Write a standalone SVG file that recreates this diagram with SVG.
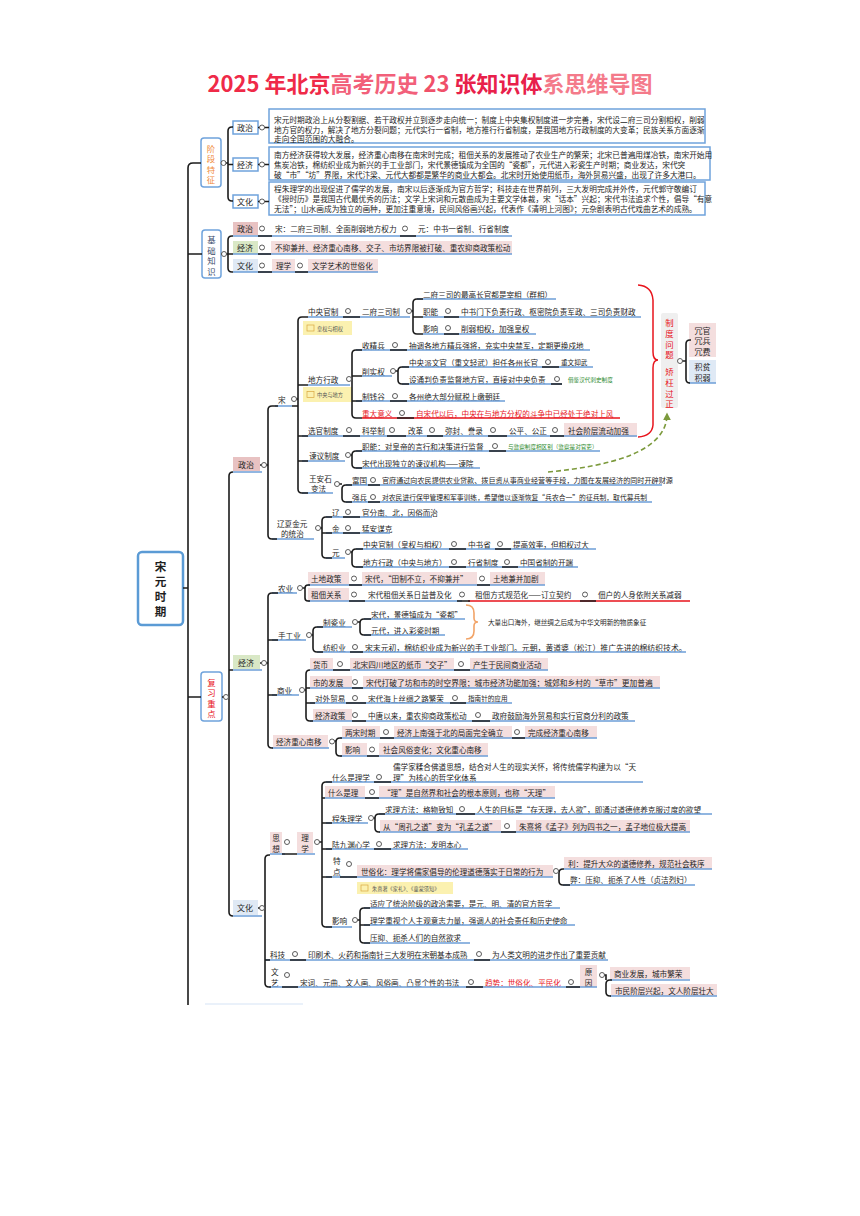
<svg xmlns="http://www.w3.org/2000/svg" width="860" height="1216" viewBox="0 0 860 1216">
<defs>
<style>
text{font-family:"Noto Sans CJK SC","Noto Sans",sans-serif;fill:#1e1e1e;dominant-baseline:central}
.t{font-size:7.6px}
.tb{font-size:7.7px}
.s{font-size:6.6px}
.g{font-size:5.6px;fill:#2e8b2e}
.y{font-size:5.2px;fill:#555}
.r{fill:#e8141c}
.lab{font-size:8px}
.v{font-size:8.4px;text-anchor:middle}
.ul{stroke:#6d9fd8;stroke-width:1.3;fill:none}
.ur{stroke:#e8141c;stroke-width:1.3;fill:none}
.cn{stroke:#1c1c1c;stroke-width:1.6;fill:none}
.ci{fill:#fff;stroke:#4a4a4a;stroke-width:0.9}
.pk{fill:#f4dede}
.pz{fill:#e8c2c2}
.gz{fill:#d9e8c6}
.bz{fill:#dfe9f5}
.box{fill:#fff;stroke:#6fa3dc;stroke-width:1.5}
.yl{fill:#fbf1b0}
.ic{fill:none;stroke:#d9a640;stroke-width:0.7}
.rt{font-size:11.6px;font-weight:bold;text-anchor:middle}
</style>
<marker id="ga" viewBox="0 0 10 10" refX="8" refY="5" markerWidth="5" markerHeight="5" orient="auto"><path d="M0,0 L10,5 L0,10 z" fill="#7c9a3c"/></marker>
</defs>
<rect width="860" height="1216" fill="#fff"/>

<g id="title">
<text x="430" y="82" text-anchor="middle" font-size="22" font-weight="bold" style="fill:#f0284a"><tspan style="fill:#ef2a48">2025 年北京</tspan><tspan style="fill:#f2607a">高考历史</tspan><tspan style="fill:#f0506a"> 23 </tspan><tspan style="fill:#e8204a">张知识体</tspan><tspan style="fill:#f47a8a">系思维导图</tspan></text>
</g>

<g id="root">
<rect x="138" y="552" width="45" height="73" rx="4" fill="#fff" stroke="#5b9bd5" stroke-width="2.5"/>
<text class="rt" x="160.5" y="566">宋</text>
<text class="rt" x="160.5" y="581">元</text>
<text class="rt" x="160.5" y="596">时</text>
<text class="rt" x="160.5" y="611">期</text>
</g>

<!-- 阶段特征 -->
<g id="n-jdtz">
<rect class="box" x="201" y="138" width="20" height="49" rx="3"/>
<text class="v" x="211" y="147.5" style="fill:#f08a3a">阶</text>
<text class="v" x="211" y="158" style="fill:#f08a3a">段</text>
<text class="v" x="211" y="168.5" style="fill:#f08a3a">特</text>
<text class="v" x="211" y="179" style="fill:#f08a3a">征</text>
</g>
<g id="n-jd-zz">
<rect class="box" x="233" y="121" width="25" height="13"/>
<text class="lab" x="237" y="127.5">政治</text>
<rect class="box" x="269" y="109" width="436" height="34"/>
<text class="tb" x="274" y="119">宋元时期政治上从分裂割据、若干政权并立到逐步走向统一；制度上中央集权制度进一步完善，宋代设二府三司分割相权，削弱</text>
<text class="tb" x="274" y="129">地方官的权力，解决了地方分裂问题；元代实行一省制，地方推行行省制度，是我国地方行政制度的大变革；民族关系方面逐渐</text>
<text class="tb" x="274" y="138.5">走向全国范围的大融合。</text>
</g>
<g id="n-jd-jj">
<rect class="box" x="233" y="158" width="25" height="13"/>
<text class="lab" x="237" y="164.5">经济</text>
<rect class="box" x="269" y="147" width="441" height="33"/>
<text class="tb" x="274" y="154.5">南方经济获得较大发展，经济重心南移在南宋时完成；租佃关系的发展推动了农业生产的繁荣；北宋已普遍用煤冶铁，南宋开始用</text>
<text class="tb" x="274" y="164.5">焦炭冶铁，棉纺织业成为新兴的手工业部门，宋代景德镇成为全国的“瓷都”，元代进入彩瓷生产时期；商业发达，宋代突</text>
<text class="tb" x="274" y="174.5">破“市”“坊”界限，宋代汴梁、元代大都都是繁华的商业大都会。北宋时开始使用纸币，海外贸易兴盛，出现了许多大港口。</text>
</g>
<g id="n-jd-wh">
<rect class="box" x="233" y="195" width="25" height="13"/>
<text class="lab" x="237" y="201.5">文化</text>
<rect class="box" x="269" y="182" width="436" height="33"/>
<text class="tb" x="274" y="188">程朱理学的出现促进了儒学的发展，南宋以后逐渐成为官方哲学；科技走在世界前列，三大发明完成并外传，元代郭守敬编订</text>
<text class="tb" x="274" y="198">《授时历》是我国古代最优秀的历法；文学上宋词和元散曲成为主要文学体裁，宋“话本”兴起；宋代书法追求个性，倡导“有意</text>
<text class="tb" x="274" y="208">无法”；山水画成为独立的画种，更加注重意境，民间风俗画兴起，代表作《清明上河图》；元杂剧表明古代戏曲艺术的成熟。</text>
</g>

<!-- 基础知识 -->
<g id="n-jczs">
<rect class="box" x="202" y="230" width="19" height="48" rx="3"/>
<text class="v" x="211.5" y="239" style="fill:#3a4a6a">基</text>
<text class="v" x="211.5" y="249.5" style="fill:#3a4a6a">础</text>
<text class="v" x="211.5" y="260" style="fill:#3a4a6a">知</text>
<text class="v" x="211.5" y="270.5" style="fill:#3a4a6a">识</text>
</g>
<g id="n-jc-zz">
<rect class="pz" x="233" y="222" width="25" height="13"/>
<text class="lab" x="237" y="228.5">政治</text>
<text class="t" x="275" y="228.5">宋：二府三司制、全面削弱地方权力</text>
<text class="t" x="418" y="228.5">元：中书一省制、行省制度</text>
</g>
<g id="n-jc-jj">
<rect class="gz" x="233" y="241" width="25" height="13"/>
<text class="lab" x="237" y="247.5">经济</text>
<rect class="pk" x="271" y="241" width="241" height="13"/>
<text class="t" x="275" y="247.5">不抑兼并、经济重心南移、交子、市坊界限被打破、重农抑商政策松动</text>
</g>
<g id="n-jc-wh">
<rect class="bz" x="233" y="259" width="25" height="13"/>
<text class="lab" x="237" y="265.5">文化</text>
<rect class="pk" x="272" y="259" width="23" height="13"/>
<text class="t" x="276" y="265.5">理学</text>
<rect class="pk" x="308" y="259" width="70" height="13"/>
<text class="t" x="312" y="265.5">文学艺术的世俗化</text>
</g>

<!-- 复习重点 -->
<g id="n-fxzd">
<rect class="box" x="201" y="672" width="21" height="49" rx="3"/>
<text class="v" x="211.5" y="681.5" style="fill:#e8141c">复</text>
<text class="v" x="211.5" y="692" style="fill:#e8141c">习</text>
<text class="v" x="211.5" y="702.5" style="fill:#e8141c">重</text>
<text class="v" x="211.5" y="713" style="fill:#e8141c">点</text>
</g>

<!-- 政治 -->
<g id="n-zz">
<rect class="pz" x="233" y="457" width="27" height="14"/>
<text class="lab" x="238" y="464">政治</text>
</g>
<g id="n-song"><text class="t" x="278" y="399">宋</text></g>
<g id="n-zygz">
<text class="t" x="308" y="311">中央官制</text>
<text class="t" x="362" y="311">二府三司制</text>
<text class="t" x="423" y="294">二府三司的最高长官都是宰相（群相）</text>
<text class="t" x="423" y="311">职能</text>
<text class="t" x="461" y="311">中书门下负责行政、枢密院负责军政、三司负责财政</text>
<text class="t" x="423" y="328">影响</text>
<text class="t" x="461" y="328">削弱相权，加强皇权</text>
<rect class="yl" x="303" y="321" width="49" height="14"/>
<rect class="ic" x="307" y="325" width="7" height="6"/>
<text class="y" x="317" y="328">皇权与相权</text>
</g>
<g id="n-dfxz">
<text class="t" x="308" y="379">地方行政</text>
<text class="t" x="362" y="345">收精兵</text>
<text class="t" x="409" y="345">抽调各地方精兵强将，充实中央禁军，定期更换戍地</text>
<text class="t" x="362" y="371">削实权</text>
<text class="t" x="409" y="362">中央派文官（重文轻武）担任各州长官</text>
<text class="s" x="561" y="362">重文抑武</text>
<text class="t" x="409" y="379">设通判负责监督地方官，直接对中央负责</text>
<text class="g" x="568" y="380">借鉴汉代刺史制度</text>
<text class="t" x="362" y="396">制钱谷</text>
<text class="t" x="409" y="396">各州绝大部分赋税上缴朝廷</text>
<text class="t r" x="362" y="413">重大意义</text>
<text class="t r" x="416" y="413">自宋代以后，中央在与地方分权的斗争中已经处于绝对上风</text>
<rect class="yl" x="303" y="387" width="49" height="15"/>
<rect class="ic" x="307" y="391.5" width="7" height="6"/>
<text class="y" x="317" y="394.5">中央与地方</text>
</g>
<g id="n-xgzd">
<text class="t" x="308" y="430">选官制度</text>
<text class="t" x="362" y="430">科举制</text>
<text class="t" x="408" y="430">改革</text>
<text class="t" x="445" y="430">弥封、誊录</text>
<text class="t" x="509" y="430">公平、公正</text>
<rect class="pk" x="564" y="423" width="73" height="14"/>
<text class="t" x="568" y="430">社会阶层流动加强</text>
</g>
<g id="n-jyzd">
<text class="t" x="309" y="455">谏议制度</text>
<text class="t" x="362" y="446">职能：对皇帝的言行和决策进行监督</text>
<text class="g" x="508" y="447">与监察制度相区别（监察是对官吏）</text>
<text class="t" x="362" y="463">宋代出现独立的谏议机构——谏院</text>
</g>
<g id="n-wasbf">
<text class="t" x="309" y="478">王安石</text>
<text class="t" x="311" y="488.5">变法</text>
<text class="t" x="352" y="480">富国</text>
<text x="382" y="480" style="font-size:7.1px">官府通过向农民提供农业贷款、拨巨资从事商业经营等手段，力图在发展经济的同时开辟财源</text>
<text class="t" x="352" y="497">强兵</text>
<text x="382" y="497" style="font-size:6.8px">对农民进行保甲管理和军事训练，希望借以逐渐恢复“兵农合一”的征兵制，取代募兵制</text>
</g>
<g id="n-lxjy">
<text class="t" x="277" y="523">辽夏金元</text>
<text class="t" x="281" y="533.5">的统治</text>
<text class="t" x="332" y="512">辽</text>
<text class="t" x="362" y="512">官分南、北，因俗而治</text>
<text class="t" x="332" y="528">金</text>
<text class="t" x="362" y="528">猛安谋克</text>
<text class="t" x="332" y="552">元</text>
<text class="t" x="363" y="544">中央官制（皇权与相权）</text>
<text class="t" x="468" y="544">中书省</text>
<text class="t" x="513" y="544">提高效率，但相权过大</text>
<text class="t" x="363" y="562">地方行政（中央与地方）</text>
<text class="t" x="468" y="562">行省制度</text>
<text class="t" x="520" y="562">中国省制的开端</text>
</g>

<!-- right side -->
<g id="n-zdwt">
<rect x="661" y="313" width="17" height="95" rx="2" fill="#efefef"/>
<text class="v r" x="669.5" y="322">制</text>
<text class="v r" x="669.5" y="333">度</text>
<text class="v r" x="669.5" y="343.5">问</text>
<text class="v r" x="669.5" y="354">题</text>
<text class="v r" x="669.5" y="371">矫</text>
<text class="v r" x="669.5" y="382">枉</text>
<text class="v r" x="669.5" y="392.5">过</text>
<text class="v r" x="669.5" y="403">正</text>
</g>
<g id="n-rong">
<rect class="pk" x="689" y="323" width="27" height="34"/>
<text x="702.5" y="330" font-size="8" text-anchor="middle">冗官</text>
<text x="702.5" y="340.5" font-size="8" text-anchor="middle">冗兵</text>
<text x="702.5" y="351" font-size="8" text-anchor="middle">冗费</text>
</g>
<g id="n-jipin">
<rect class="bz" x="689" y="360" width="27" height="23"/>
<text x="702.5" y="366.5" font-size="8" text-anchor="middle">积贫</text>
<text x="702.5" y="377" font-size="8" text-anchor="middle">积弱</text>
</g>

<!-- 经济 -->
<g id="n-jj">
<rect class="gz" x="233" y="655" width="27" height="14"/>
<text class="lab" x="238" y="662">经济</text>
</g>
<g id="n-ny">
<text class="t" x="278" y="588">农业</text>
<rect class="pk" x="308" y="572" width="41" height="13"/>
<text class="t" x="311" y="578.5">土地政策</text>
<rect class="pk" x="362" y="572" width="115" height="13"/>
<text class="t" x="365" y="578.5">宋代，“田制不立，不抑兼并”</text>
<rect class="pk" x="490" y="572" width="55" height="13"/>
<text class="t" x="493" y="578.5">土地兼并加剧</text>
<rect class="pk" x="308" y="588" width="41" height="13"/>
<text class="t" x="311" y="594.5">租佃关系</text>
<text class="t" x="368" y="594.5">宋代租佃关系日益普及化</text>
<text class="t" x="475" y="594.5">租佃方式规范化——订立契约</text>
<text class="t" x="598" y="594.5">佃户的人身依附关系减弱</text>
</g>
<g id="n-sgy">
<text class="t" x="278" y="635">手工业</text>
<text class="t" x="323" y="622">制瓷业</text>
<text class="t" x="371" y="614">宋代，景德镇成为“瓷都”</text>
<text class="t" x="371" y="630">元代，进入彩瓷时期</text>
<text class="s" x="488" y="622">大量出口海外，继丝绸之后成为中华文明新的物质象征</text>
<text class="t" x="323" y="647">纺织业</text>
<text x="365" y="647" style="font-size:7.85px">宋末元初，棉纺织业成为新兴的手工业部门。元朝，黄道婆（松江）推广先进的棉纺织技术。</text>
</g>
<g id="n-sy">
<text class="t" x="277" y="690">商业</text>
<rect class="pk" x="310" y="658" width="23" height="12"/>
<text class="t" x="313" y="664">货币</text>
<rect class="pk" x="350" y="658" width="104" height="12"/>
<text class="t" x="353" y="664">北宋四川地区的纸币“交子”</text>
<rect class="pk" x="470" y="658" width="78" height="12"/>
<text class="t" x="473" y="664">产生于民间商业活动</text>
<rect class="pk" x="310" y="676" width="42" height="12"/>
<text class="t" x="313" y="682">市的发展</text>
<rect class="pk" x="363" y="676" width="297" height="12"/>
<text x="366" y="682" style="font-size:7.75px">宋代打破了坊和市的时空界限；城市经济功能加强；城郊和乡村的“草市”更加普遍</text>
<text class="t" x="315" y="698">对外贸易</text>
<text class="t" x="368" y="698">宋代海上丝绸之路繁荣</text>
<text class="s" x="468" y="698">指南针的应用</text>
<rect class="pk" x="313" y="709" width="39" height="12"/>
<text class="t" x="315" y="715">经济政策</text>
<text class="t" x="368" y="715">中唐以来，重农抑商政策松动</text>
<text class="t" x="492" y="715">政府鼓励海外贸易和实行官商分利的政策</text>
</g>
<g id="n-jjzx">
<rect class="pk" x="273" y="735" width="55" height="13"/>
<text class="t" x="276" y="741.5">经济重心南移</text>
<rect class="pk" x="342" y="726" width="38" height="12"/>
<text class="t" x="345" y="732">两宋时期</text>
<rect class="pk" x="394" y="726" width="118" height="12"/>
<text class="t" x="397" y="732">经济上南强于北的局面完全确立</text>
<rect class="pk" x="525" y="726" width="72" height="12"/>
<text class="t" x="528" y="732">完成经济重心南移</text>
<rect class="pk" x="342" y="743" width="25" height="13"/>
<text class="t" x="345" y="749.5">影响</text>
<rect class="pk" x="379" y="743" width="109" height="13"/>
<text class="t" x="383" y="749.5">社会风俗变化；文化重心南移</text>
</g>

<!-- 文化 -->
<g id="n-wh">
<rect class="bz" x="233" y="900" width="25" height="15"/>
<text class="lab" x="237" y="907.5">文化</text>
</g>
<g id="n-sx">
<rect class="pk" x="270" y="832" width="12" height="21"/>
<text class="t" x="276" y="837" text-anchor="middle">思</text>
<text class="t" x="276" y="848" text-anchor="middle">想</text>
<rect class="pk" x="297" y="832" width="16" height="21"/>
<text class="t" x="305" y="837" text-anchor="middle">理</text>
<text class="t" x="305" y="848" text-anchor="middle">学</text>
</g>
<g id="n-lx">
<text class="t" x="332" y="777">什么是理学</text>
<text class="t" x="393" y="766.5">儒学家糅合佛道思想，结合对人生的现实关怀，将传统儒学构建为以“天</text>
<text class="t" x="393" y="777">理”为核心的哲学化体系</text>
<rect class="pk" x="325" y="786" width="40" height="12"/>
<text class="t" x="328" y="792">什么是理</text>
<rect class="pk" x="379" y="786" width="176" height="12"/>
<text class="t" x="383" y="792">“理”是自然界和社会的根本原则，也称“天理”</text>
<text class="t" x="332" y="818">程朱理学</text>
<text class="t" x="385" y="809">求理方法：格物致知</text>
<text class="t" x="477" y="809">人生的目标是“存天理，去人欲”，即通过道德修养克服过度的欲望</text>
<rect class="pk" x="380" y="820" width="121" height="12"/>
<text class="t" x="383" y="826">从“周孔之道”变为“孔孟之道”</text>
<rect class="pk" x="516" y="820" width="174" height="12"/>
<text class="t" x="519" y="826">朱熹将《孟子》列为四书之一，孟子地位极大提高</text>
<text class="t" x="332" y="844">陆九渊心学</text>
<text class="t" x="393" y="844">求理方法：发明本心</text>
<text class="t" x="333" y="860">特</text>
<text class="t" x="333" y="871">点</text>
<rect class="pk" x="357" y="865" width="196" height="12"/>
<text class="t" x="361" y="871">世俗化：理学将儒家倡导的伦理道德落实于日常的行为</text>
<rect class="pk" x="564" y="857" width="148" height="12"/>
<text class="t" x="568" y="863">利：提升大众的道德修养，规范社会秩序</text>
<text class="t" x="570" y="879">弊：压抑、扼杀了人性（贞洁烈妇）</text>
<rect class="yl" x="357" y="882" width="96" height="12"/>
<rect class="ic" x="361" y="885" width="7" height="6"/>
<text class="y" x="372" y="888">朱熹著《家礼》、《童蒙须知》</text>
<text class="t" x="332" y="920">影响</text>
<text class="t" x="370" y="903">适应了统治阶级的政治需要，是元、明、清的官方哲学</text>
<text class="t" x="370" y="920">理学重视个人主观意志力量，强调人的社会责任和历史使命</text>
<text class="t" x="370" y="937">压抑、扼杀人们的自然欲求</text>
</g>
<g id="n-kj">
<text class="t" x="270" y="954">科技</text>
<text class="t" x="308" y="954">印刷术、火药和指南针三大发明在宋朝基本成熟</text>
<text class="t" x="492" y="954">为人类文明的进步作出了重要贡献</text>
</g>
<g id="n-wy">
<text class="t" x="271" y="971">文</text>
<text class="t" x="271" y="982">艺</text>
<text class="t" x="300" y="982">宋词、元曲、文人画、风俗画、凸显个性的书法</text>
<text class="t r" x="485" y="982">趋势：世俗化、平民化</text>
<rect class="pk" x="580" y="965" width="17" height="22"/>
<text class="t" x="588.5" y="971" text-anchor="middle">原</text>
<text class="t" x="588.5" y="982" text-anchor="middle">因</text>
<rect class="pk" x="610" y="967" width="80" height="12"/>
<text class="t" x="614" y="973">商业发展，城市繁荣</text>
<rect class="pk" x="611" y="984" width="106" height="12"/>
<text class="t" x="615" y="990">市民阶层兴起，文人阶层壮大</text>
</g>

<g id="connectors">
<path class="ul" d="M233,236 H512 M233,254 H512 M233,272 H378
M233,472 H262 M275,406 H292
M308,317 H410 M417,299 H556 M423,317 H641 M423,334 H536
M308,385 H350 M356,350 H590 M362,376 H392 M402,367 H593 M402,384 H562 M356,401 H505
M302,436 H637 M302,461 H345 M356,451 H600 M356,468 H480
M302,493 H333 M346,485 H662 M346,502 H652
M272,539 H314 M326,517 H432 M326,533 H390 M326,558 H345 M356,549 H596 M356,567 H578
M233,670 H262 M272,593 H297 M308,585 H545 M308,601 H462
M272,640 H306 M317,627 H352 M364,619 H465 M364,635 H445 M317,652 H686
M272,695 H299 M310,670 H548 M310,688 H660 M310,703 H512 M310,721 H635
M272,748 H329 M340,738 H597 M340,756 H488
M233,916 H262 M270,854 H285 M297,854 H315
M326,782 H643 M325,798 H555 M326,823 H368 M379,814 H712 M379,832 H690 M326,849 H468
M326,877 H553 M564,869 H712 M563,885 H695
M326,927 H352 M364,908 H560 M364,925 H575 M364,943 H470
M265,960 H608 M269,987 H597 M610,980 H690 M610,996 H717
M689,383 H716"/>
<path class="ur" d="M362,418 H620 M468,601 H690"/>
<path d="M205,1004 H303" stroke="#e3edf8" stroke-width="1.5"/>

<path class="cn" d="M201,163 H193 Q188,163 188,168 V1005 M183,588 H188 M188,254 H202 M188,697 H201
M221,163 H228 M233,127 H232 Q228,127 228,131 V197 Q228,201 232,201 H233 M228,164.5 H233
M258,127.5 H269 M258,164.5 H269 M258,201.5 H269
M221,254 H228 M233,236 H232 Q228,236 228,240 V268 Q228,272 232,272 H233 M228,254 H233
M258,236 H272 M400,236 H416 M258,254 H271 M258,272 H272 M295,272 H308
M222,697 H229 M233,472 Q229,472 229,476 V912 Q229,916 233,916 M229,670 H233
M260,465 H268 M278,406 H272 Q268,406 268,410 V535 Q268,539 272,539 H277
M292,406 H298 M296,399 H298 M308,317 H302 Q298,317 298,321 V489 Q298,493 302,493 H308 M298,385 H308 M298,436 H308 M298,461 H308
M343,317 H360 M411,311 H413 M423,299 H417 Q413,299 413,303 V330 Q413,334 417,334 H423 M413,317 H423
M444,317 H459 M444,334 H459
M350,379 H352 M362,350 H356 Q352,350 352,354 V414 Q352,418 356,418 H362 M352,376 H362 M352,401 H362
M390,350 H407 M395,371 H398 M409,367 H402 Q398,367 398,371 V380 Q398,384 402,384 H409
M542,367 H559 M551,384 H562 M390,401 H407 M397,418 H414
M343,436 H360 M387,436 H406 M427,436 H443 M488,436 H507 M550,436 H564
M350,455 H352 M362,451 H356 Q352,451 352,455 V464 Q352,468 356,468 H362 M489,451 H506
M339,484 H342 M352,485 H346 Q342,485 342,489 V498 Q342,502 346,502 H352 M368,485 H380 M368,502 H380
M320,528 H322 M332,517 H326 Q322,517 322,521 V554 Q322,558 326,558 H332 M322,533 H332
M343,517 H360 M343,533 H360
M350,552 H352 M363,549 H356 Q352,549 352,553 V563 Q352,567 356,567 H363
M449,549 H466 M495,549 H511 M449,567 H466 M502,567 H518
M260,663 H268 M278,593 H272 Q268,593 268,597 V744 Q268,748 272,748 H273 M268,640 H278 M268,695 H277
M302,588 H305 M310,585 H308 Q305,585 305,588 V598 Q305,601 308,601 H310
M349,585 H362 M477,585 H490 M349,601 H365 M457,601 H470 M580,601 H596
M311,635 H313 M323,627 H317 Q313,627 313,631 V648 Q313,652 317,652 H323
M357,622 H360 M371,619 H364 Q360,619 360,623 V631 Q360,635 364,635 H371 M350,652 H363
M304,690 H306 M310,670 Q306,670 306,674 V717 Q306,721 310,721 H313 M306,688 H310 M306,703 H315
M333,670 H350 M454,670 H470 M352,688 H363 M346,703 H366 M450,703 H466 M352,721 H366 M472,721 H490
M334,741 H336 M342,738 H340 Q336,738 336,742 V752 Q336,756 340,756 H342
M380,738 H394 M512,738 H525 M367,756 H379
M258,908 H265 M270,855 H269 Q265,855 265,859 V983 Q265,987 269,987 H271 M265,960 H270
M282,854 H297 M319,842 H322 M332,782 H326 Q322,782 322,786 V923 Q322,927 326,927 H332 M322,798 H325 M322,823 H332 M322,849 H332 M322,877 H332
M374,782 H391 M365,798 H379 M373,818 H375 M385,814 H379 Q375,814 375,818 V828 Q375,832 379,832 H380
M456,814 H475 M501,832 H516 M374,849 H391 M340,877 H357
M558,871 H559 M564,869 H563 Q559,869 559,873 V881 Q559,885 563,885 H570
M357,920 H360 M370,908 H364 Q360,908 360,912 V939 Q360,943 364,943 H370 M360,925 H370
M290,960 H306 M474,960 H490
M282,987 H298 M466,987 H483 M566,987 H580
M604,975 H606 V980 M612,980 H610 Q606,980 606,984 V992 Q606,996 610,996 H611
M682,361 H686 M691,340 H690 Q686,340 686,344 V379 Q686,383 690,383"/>

<path d="M638,285 Q652,286 653,300 V352 Q653,360 658,360 Q653,360 653,368 V425 Q652,436 638,437" fill="none" stroke="#e8141c" stroke-width="1.5"/>
<path d="M466,605 Q474,605 474,613 V618 Q474,622 478,622 Q474,622 474,626 V631 Q474,639 466,639" fill="none" stroke="#f2a468" stroke-width="1.6"/>
<path d="M548,472 C610,466 667,452 667,414" fill="none" stroke="#7c9a3c" stroke-width="1.6" stroke-dasharray="5,3" marker-end="url(#ga)"/>

<g class="ci">
<circle cx="223.5" cy="163" r="2.5"/>
<circle cx="262" cy="127.5" r="2.5"/><circle cx="262" cy="164.5" r="2.5"/><circle cx="262" cy="201.5" r="2.5"/>
<circle cx="224" cy="254" r="2.5"/>
<circle cx="262" cy="228.5" r="2.5"/><circle cx="405" cy="228.5" r="2.5"/><circle cx="262" cy="247.5" r="2.5"/><circle cx="262" cy="265.5" r="2.5"/><circle cx="300" cy="265.5" r="2.5"/>
<circle cx="226" cy="697" r="2.5"/>
<circle cx="264" cy="465" r="2.5"/><circle cx="294" cy="399" r="2.5"/>
<circle cx="348" cy="311" r="2.5"/><circle cx="409" cy="311" r="2.5"/><circle cx="448" cy="311" r="2.5"/><circle cx="448" cy="328" r="2.5"/>
<circle cx="349" cy="379" r="2.5"/><circle cx="395" cy="345" r="2.5"/><circle cx="393" cy="371" r="2.5"/><circle cx="548" cy="362" r="2.5"/><circle cx="557" cy="379" r="2.5"/><circle cx="395" cy="396" r="2.5"/><circle cx="402" cy="413" r="2.5"/>
<circle cx="349" cy="430" r="2.5"/><circle cx="392" cy="430" r="2.5"/><circle cx="432" cy="430" r="2.5"/><circle cx="493" cy="430" r="2.5"/><circle cx="555" cy="430" r="2.5"/>
<circle cx="348" cy="455" r="2.5"/><circle cx="495" cy="446" r="2.5"/>
<circle cx="337" cy="484" r="2.5"/><circle cx="373" cy="480" r="2.5"/><circle cx="373" cy="497" r="2.5"/>
<circle cx="318" cy="528" r="2.5"/><circle cx="348" cy="512" r="2.5"/><circle cx="348" cy="528" r="2.5"/><circle cx="348" cy="552" r="2.5"/>
<circle cx="454" cy="544" r="2.5"/><circle cx="500" cy="544" r="2.5"/><circle cx="454" cy="562" r="2.5"/><circle cx="507" cy="562" r="2.5"/>
<circle cx="264" cy="663" r="2.5"/>
<circle cx="300" cy="588" r="2.5"/><circle cx="354" cy="578.5" r="2.5"/><circle cx="482" cy="578.5" r="2.5"/><circle cx="354" cy="594.5" r="2.5"/><circle cx="462" cy="594.5" r="2.5"/><circle cx="585" cy="594.5" r="2.5"/>
<circle cx="309" cy="635" r="2.5"/><circle cx="355" cy="622" r="2.5"/><circle cx="355" cy="647" r="2.5"/>
<circle cx="302" cy="690" r="2.5"/><circle cx="340" cy="664" r="2.5"/><circle cx="461" cy="664" r="2.5"/><circle cx="355" cy="682" r="2.5"/><circle cx="355" cy="698" r="2.5"/><circle cx="455" cy="698" r="2.5"/><circle cx="355" cy="715" r="2.5"/><circle cx="478" cy="715" r="2.5"/>
<circle cx="332" cy="741.5" r="2.5"/><circle cx="386" cy="732" r="2.5"/><circle cx="517" cy="732" r="2.5"/><circle cx="372" cy="749.5" r="2.5"/>
<circle cx="262" cy="908" r="2.5"/><circle cx="287" cy="842" r="2.5"/><circle cx="317" cy="842" r="2.5"/>
<circle cx="379" cy="777" r="2.5"/><circle cx="372" cy="792" r="2.5"/><circle cx="371" cy="818" r="2.5"/><circle cx="462" cy="809" r="2.5"/><circle cx="507" cy="826" r="2.5"/><circle cx="379" cy="844" r="2.5"/>
<circle cx="349" cy="864" r="2.5"/><circle cx="556" cy="871" r="2.5"/><circle cx="355" cy="920" r="2.5"/>
<circle cx="295" cy="954" r="2.5"/><circle cx="479" cy="954" r="2.5"/>
<circle cx="287" cy="975" r="2.5"/><circle cx="471" cy="982" r="2.5"/><circle cx="571" cy="982" r="2.5"/><circle cx="602" cy="975" r="2.5"/>
<circle cx="680" cy="361" r="2.5"/>
</g>
</g>
</svg>
